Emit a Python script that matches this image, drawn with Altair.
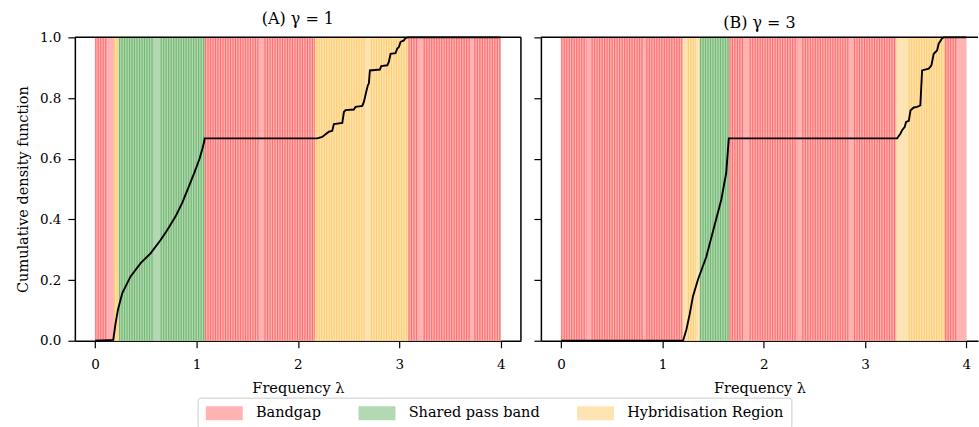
import altair as alt
import pandas as pd

FONT = "DejaVu Serif"
CATS = ["Bandgap", "Shared pass band", "Hybridisation Region"]
LIGHT = ["#ffb3b3", "#b3d9b3", "#ffe4b3"]
DARK = ["#ff0000", "#008000", "#ffa500"]

# ---- Panel A (gamma = 1) ----
a_reg_start = [0.00, 0.186, 0.235, 1.083, 2.17, 3.09]
a_reg_end = [0.186, 0.235, 1.083, 2.17, 3.09, 4.00]
a_reg_type = ["Bandgap", "Hybridisation Region", "Shared pass band", "Bandgap",
              "Hybridisation Region", "Bandgap"]
a_den_start = [0.00, 0.186, 0.235, 0.646, 1.083, 1.67, 2.18, 2.72, 3.09, 3.24, 3.74]
a_den_end = [0.12, 0.235, 0.58, 1.083, 1.625, 2.17, 2.67, 3.09, 3.19, 3.70, 4.00]
a_den_type = ["Bandgap", "Hybridisation Region", "Shared pass band", "Shared pass band",
              "Bandgap", "Bandgap", "Hybridisation Region", "Hybridisation Region",
              "Bandgap", "Bandgap", "Bandgap"]
a_cdf_x = [0, 0.179, 0.202, 0.225, 0.268, 0.350, 0.449, 0.547, 0.646, 0.712, 0.794,
           0.860, 0.920, 0.980, 1.030, 1.060, 1.075, 1.080, 2.191, 2.240, 2.273, 2.306,
           2.339, 2.355, 2.438, 2.454, 2.470, 2.552, 2.569, 2.635, 2.651, 2.678, 2.690,
           2.700, 2.710, 2.809, 2.822, 2.882, 2.897, 2.914, 2.963, 2.980, 2.996, 3.013,
           3.045, 3.062, 3.085, 4.0]
a_cdf_y = [0, 0.003, 0.058, 0.102, 0.157, 0.212, 0.256, 0.288, 0.332, 0.365, 0.410,
           0.455, 0.505, 0.555, 0.600, 0.635, 0.655, 0.667, 0.667, 0.672, 0.681, 0.689,
           0.692, 0.714, 0.718, 0.754, 0.760, 0.762, 0.771, 0.774, 0.787, 0.826, 0.842,
           0.848, 0.891, 0.894, 0.905, 0.908, 0.919, 0.946, 0.948, 0.963, 0.968, 0.985,
           0.990, 0.998, 1.0, 1.0]

# ---- Panel B (gamma = 3) ----
b_reg_start = [0.00, 1.20, 1.37, 1.66, 3.31, 3.79]
b_reg_end = [1.20, 1.37, 1.66, 3.31, 3.79, 4.00]
b_reg_type = ["Bandgap", "Hybridisation Region", "Shared pass band", "Bandgap",
              "Hybridisation Region", "Bandgap"]
b_den_start = [0.00, 0.30, 0.84, 1.25, 1.37, 1.66, 1.86, 2.38, 2.89, 3.43, 3.79]
b_den_end = [0.25, 0.81, 1.20, 1.33, 1.66, 1.80, 2.33, 2.84, 3.31, 3.79, 3.90]
b_den_type = ["Bandgap", "Bandgap", "Bandgap", "Hybridisation Region", "Shared pass band",
              "Bandgap", "Bandgap", "Bandgap", "Bandgap", "Hybridisation Region", "Bandgap"]
b_cdf_x = [0, 1.203, 1.236, 1.268, 1.301, 1.350, 1.433, 1.514, 1.580, 1.629, 1.655,
           3.317, 3.350, 3.366, 3.392, 3.405, 3.432, 3.449, 3.481, 3.514, 3.546, 3.563,
           3.629, 3.655, 3.678, 3.711, 3.727, 3.759, 3.776, 4.0]
b_cdf_y = [0, 0, 0.036, 0.086, 0.146, 0.201, 0.277, 0.380, 0.464, 0.552, 0.667,
           0.667, 0.683, 0.694, 0.705, 0.721, 0.725, 0.760, 0.769, 0.771, 0.776, 0.891,
           0.897, 0.908, 0.946, 0.957, 0.979, 0.996, 1.0, 1.0]

x_ticks = [0, 1, 2, 3, 4]
y_ticks = [0.0, 0.2, 0.4, 0.6, 0.8, 1.0]

H = 304
WA = 447
WB = 438


def panel(reg_s, reg_e, reg_t, den_s, den_e, den_t, cx, cy, title, xmax, width,
          show_ylab, right_spine):
    xscale = alt.Scale(domain=[-0.2, xmax], nice=False, zero=False)
    yscale = alt.Scale(domain=[0, 1], nice=False)
    xaxis = alt.Axis(values=x_ticks, format="d", grid=False, domainColor="black",
                     domainWidth=1.5, tickColor="black", tickWidth=1.2, tickSize=7,
                     labelPadding=10, labelFontSize=13.5, titleFontSize=14.5,
                     titleFontWeight="normal", titlePadding=10, labelColor="black",
                     titleColor="black")
    if show_ylab:
        yaxis = alt.Axis(values=y_ticks, format=".1f", grid=False, domainColor="black",
                         domainWidth=1.5, tickColor="black", tickWidth=1.2, tickSize=7,
                         labelPadding=7, labelFontSize=13.5, titleFontSize=14.5,
                         titleFontWeight="normal", titlePadding=9,
                         title="Cumulative density function", labelColor="black",
                         titleColor="black")
    else:
        yaxis = alt.Axis(values=y_ticks, grid=False, domainColor="black",
                         domainWidth=1.5, tickColor="black", tickWidth=1.2, tickSize=7,
                         labels=False, title=None)

    reg = pd.DataFrame({"s": reg_s, "e": reg_e, "region": reg_t})
    den = pd.DataFrame({"s": den_s, "e": den_e, "region": den_t})
    cdf = pd.DataFrame({"x": cx, "y": cy, "i": list(range(len(cx)))})

    base = alt.Chart(reg).mark_rect(strokeWidth=0.4).encode(
        x=alt.X("s:Q", scale=xscale, axis=xaxis, title="Frequency λ"),
        x2="e:Q",
        y=alt.value(0),
        y2=alt.value(H),
        color=alt.Color("region:N", scale=alt.Scale(domain=CATS, range=LIGHT),
                        legend=alt.Legend(
                            title=None, orient="none", direction="horizontal",
                            columns=3, legendX=123, legendY=361,
                            symbolType="M-1,-1H4.286V1H-1Z", symbolSize=196,
                            symbolStrokeWidth=0, symbolOpacity=1,
                            labelFont=FONT, labelFontSize=14.5, labelColor="black",
                            labelOffset=36, columnPadding=37, padding=8,
                            strokeColor="#cccccc", cornerRadius=3,
                            fillColor="white")),
        stroke=alt.Stroke("region:N", scale=alt.Scale(domain=CATS, range=LIGHT),
                          legend=None),
    )
    stripes = alt.Chart(den).mark_rule(strokeWidth=H, strokeDash=[1.2, 1.3],
                                       strokeCap="butt", strokeOpacity=0.36,
                                       clip=True).encode(
        x=alt.X("s:Q", scale=xscale),
        x2="e:Q",
        y=alt.value(H / 2),
        stroke=alt.Stroke("region:N", scale=alt.Scale(domain=CATS, range=DARK),
                          legend=None),
    )
    line = alt.Chart(cdf).mark_line(color="black", strokeWidth=1.9).encode(
        x=alt.X("x:Q", scale=xscale),
        y=alt.Y("y:Q", scale=yscale, axis=yaxis),
        order=alt.Order("i:Q"),
    )
    one = alt.Data(values=[{"k": 1}])
    top = alt.Chart(one).mark_rule(color="black", strokeWidth=1.5).encode(
        x=alt.value(0), x2=alt.value(width), y=alt.value(0))
    layers = [base, stripes, line, top]
    if right_spine:
        right = alt.Chart(one).mark_rule(color="black", strokeWidth=1.5).encode(
            x=alt.value(width), y=alt.value(0), y2=alt.value(H))
        layers.append(right)
    return alt.layer(*layers).resolve_scale(stroke="independent").properties(
        width=width, height=H,
        title=alt.TitleParams(title, fontSize=16, fontWeight="normal",
                              anchor="middle", offset=3, font=FONT, color="black"))


pa = panel(a_reg_start, a_reg_end, a_reg_type, a_den_start, a_den_end, a_den_type,
           a_cdf_x, a_cdf_y, "(A) γ = 1", 4.2, WA, True, True)
pb = panel(b_reg_start, b_reg_end, b_reg_type, b_den_start, b_den_end, b_den_type,
           b_cdf_x, b_cdf_y, "(B) γ = 3", 4.115, WB, False, False)

chart = alt.hconcat(pa, pb, spacing=20, bounds="flush").properties(
    padding={"left": 15, "top": 11, "right": 0, "bottom": 0},
    background="white",
).configure_view(stroke=None).configure_axis(
    labelFont=FONT, titleFont=FONT
).configure_title(font=FONT)

chart.save("out.html", embed_options={"renderer": "svg", "actions": False})
